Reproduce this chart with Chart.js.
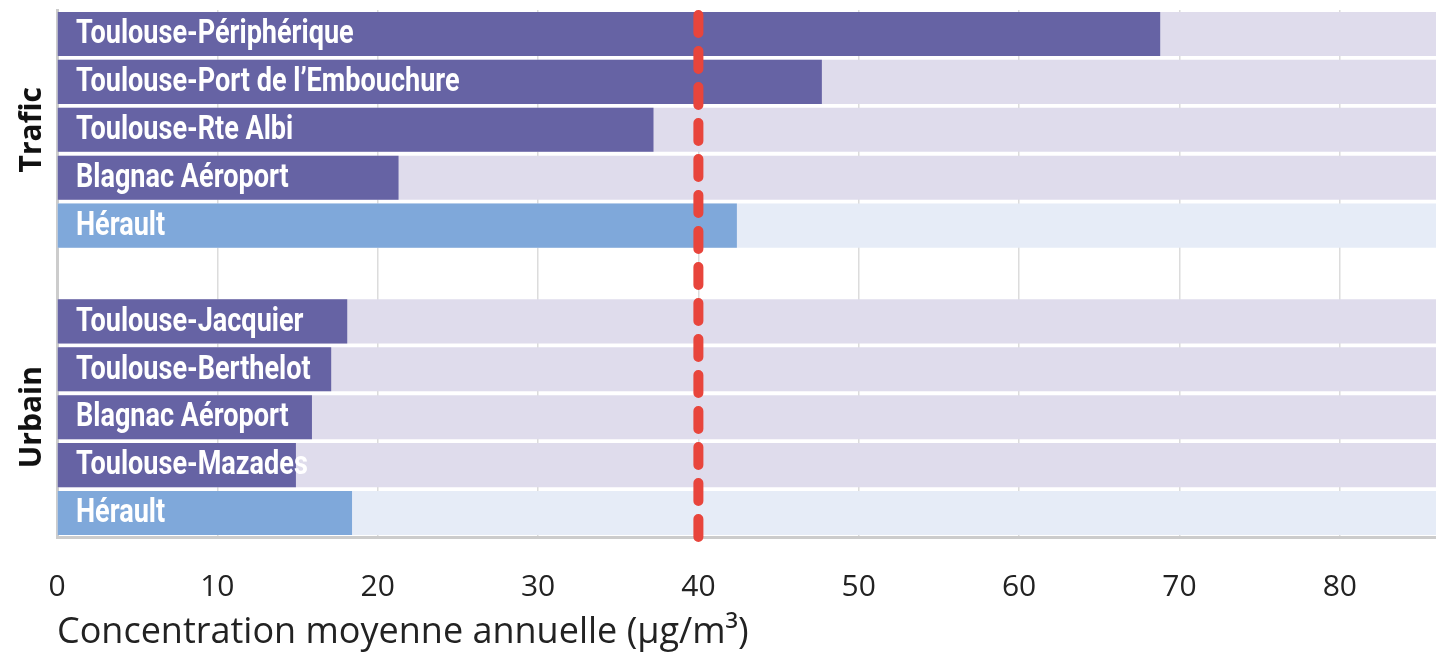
<!DOCTYPE html>
<html lang="fr">
<head>
<meta charset="utf-8">
<title>Concentration moyenne annuelle</title>
<script src="https://cdn.jsdelivr.net/npm/chart.js@4/dist/chart.umd.min.js"></script>
<style>
    html, body { margin: 0; padding: 0; background: #ffffff; }
    #wrap { width: 1436px; height: 655px; position: relative; }
</style>
</head>
<body>
<div id="wrap"><canvas id="no2Chart"></canvas></div>
<script>
// --- Données ---
const trafficStations = ['Toulouse-Périphérique', 'Toulouse-Port de l\u2019Embouchure', 'Toulouse-Rte Albi', 'Blagnac Aéroport', 'Hérault'];
const trafficValues = [68.8, 47.7, 37.2, 21.3, 42.4];
const urbanStations = ['Toulouse-Jacquier', 'Toulouse-Berthelot', 'Blagnac Aéroport', 'Toulouse-Mazades', 'Hérault'];
const urbanValues = [18.1, 17.1, 15.9, 14.9, 18.4];
const groupNames = ['Trafic', 'Urbain'];
const xTickValues = [0, 10, 20, 30, 40, 50, 60, 70, 80];
const xMax = 86;
const limitValue = 40; // valeur limite annuelle

// couleurs
const PURPLE = '#6663a4';
const PURPLE_TRACK = '#dfdcec';
const BLUE = '#7fa8da';
const BLUE_TRACK = '#e6ecf7';

// une ligne vide sépare les deux groupes
const labels = [...trafficStations, '', ...urbanStations];
const values = [...trafficValues, null, ...urbanValues];
const isDept = labels.map(l => l === 'Hérault');
const tracks = labels.map(l => (l === '' ? null : xMax));

// libellés blancs dans les barres + libellés de groupe
const labelPlugin = {
    id: 'rowLabels',
    afterDatasetsDraw(chart) {
        const ctx = chart.ctx;
        const y = chart.scales.y;
        const area = chart.chartArea;
        ctx.save();
        ctx.fillStyle = '#ffffff';
        ctx.font = 'bold 33px Roboto, "DejaVu Sans Condensed", sans-serif';
        ctx.textBaseline = 'middle';
        ctx.textAlign = 'left';
        labels.forEach((l, i) => {
            if (!l) return;
            // police condensée : on resserre horizontalement
            ctx.save();
            ctx.translate(area.left + 19, y.getPixelForValue(i) + 1);
            ctx.scale(0.82, 1);
            ctx.fillText(l, 0, 0);
            ctx.restore();
        });

        // libellés "Trafic" / "Urbain" tournés
        ctx.fillStyle = '#111111';
        ctx.font = 'bold 30px "Open Sans", sans-serif';
        ctx.textAlign = 'center';
        const groups = [[0, trafficStations.length - 1],
                        [trafficStations.length + 1, labels.length - 1]];
        groups.forEach((g, k) => {
            const cy = (y.getPixelForValue(g[0]) + y.getPixelForValue(g[1])) / 2;
            ctx.save();
            ctx.translate(32, cy);
            ctx.rotate(-Math.PI / 2);
            ctx.fillText(groupNames[k], 0, 0);
            ctx.restore();
        });
        ctx.restore();
    }
};

// ligne pointillée rouge (valeur limite)
const limitPlugin = {
    id: 'limitLine',
    afterDatasetsDraw(chart) {
        const ctx = chart.ctx;
        const x = chart.scales.x.getPixelForValue(limitValue);
        const area = chart.chartArea;
        ctx.save();
        ctx.strokeStyle = '#e8453c';
        ctx.lineWidth = 10;
        ctx.lineCap = 'round';
        ctx.setLineDash([18, 18]);
        ctx.beginPath();
        ctx.moveTo(x, area.top + 5);
        ctx.lineTo(x, area.bottom + 4);
        ctx.stroke();
        ctx.restore();
    }
};

const ctx = document.getElementById('no2Chart').getContext('2d');
new Chart(ctx, {
    type: 'bar',
    data: {
        labels: labels,
        datasets: [{
            label: 'Concentration',
            data: values,
            backgroundColor: isDept.map(d => (d ? BLUE : PURPLE)),
            grouped: false,
            order: 0,
            barPercentage: 0.92,
            categoryPercentage: 1
        }, {
            label: 'fond',
            data: tracks,
            backgroundColor: isDept.map(d => (d ? BLUE_TRACK : PURPLE_TRACK)),
            grouped: false,
            order: 1,
            barPercentage: 0.92,
            categoryPercentage: 1
        }]
    },
    options: {
        indexAxis: 'y',
        responsive: true,
        maintainAspectRatio: false,
        animation: false,
        layout: { padding: { top: 10, right: 0, bottom: 0, left: 0 } },
        plugins: {
            legend: { display: false },
            tooltip: { enabled: false }
        },
        scales: {
            x: {
                min: 0,
                max: xMax,
                afterBuildTicks: (scale) => {
                    scale.ticks = xTickValues.map(v => ({ value: v }));
                },
                afterFit: (scale) => { scale.height = 118; },
                grid: { color: '#dcdcdc', lineWidth: 1.5, drawTicks: false },
                border: { color: '#cccccc', width: 3 },
                ticks: {
                    padding: 32,
                    color: '#222222',
                    font: { family: '"Open Sans", sans-serif', size: 30 }
                },
                title: {
                    display: true,
                    text: 'Concentration moyenne annuelle (µg/m³)',
                    align: 'start',
                    color: '#222222',
                    padding: { top: 0, bottom: 1 },
                    font: { family: '"Open Sans", sans-serif', size: 36 }
                }
            },
            y: {
                afterFit: (scale) => { scale.width = 57; },
                grid: { display: false },
                border: { color: '#cccccc', width: 3 },
                ticks: { display: false }
            }
        }
    },
    plugins: [labelPlugin, limitPlugin]
});
</script>
</body>
</html>
